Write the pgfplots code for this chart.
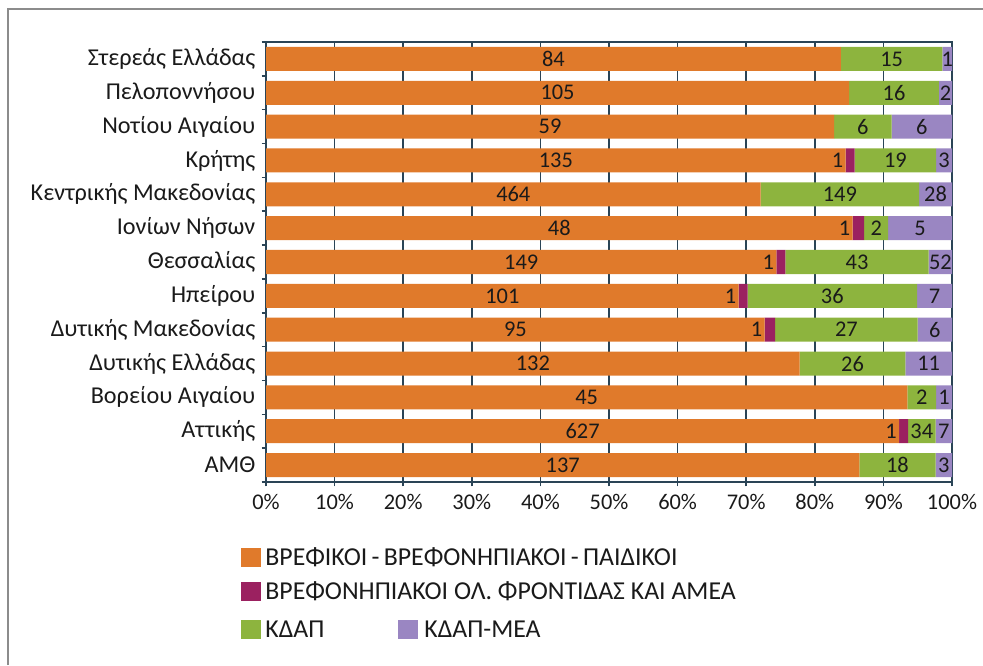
\documentclass[border=0pt]{standalone}
\usepackage{fontspec}
\setmainfont{Carlito}
\usepackage{pgfplots}
\usepackage{pgfplotstable}
\pgfplotsset{compat=1.18}

\definecolor{cOrange}{HTML}{E07A2B}
\definecolor{cMagenta}{HTML}{9B2160}
\definecolor{cGreen}{HTML}{8DB43E}
\definecolor{cPurple}{HTML}{9A86C2}
\definecolor{axiscol}{HTML}{2A4456}
\definecolor{labcol}{HTML}{1A1A1A}
\definecolor{framecol}{HTML}{8C8C8C}

\newcommand\labfont{\fontsize{11.2}{13}\selectfont}
\newcommand\catfont{\fontsize{12.1}{14}\selectfont}
\newcommand\legfont{\fontsize{12.9}{15}\selectfont}

% widths of the segments in percent (as drawn), and the printed counts
\pgfplotstableread{
y a    b   c    d   la  lb  lc  ld
0 86.5 0   11.1 2.4 137 {}  18  3
1 92.3 1.3 4.0  2.4 627 1   34  7
2 93.5 0   4.2  2.3 45  {}  2   1
3 77.8 0   15.4 6.8 132 {}  26  11
4 72.7 1.5 20.8 5.0 95  1   27  6
5 68.9 1.3 24.7 5.1 101 1   36  7
6 74.4 1.3 20.9 3.4 149 1   43  52
7 85.5 1.7 3.5  9.3 48  1   2   5
8 72.1 0   23.1 4.8 464 {}  149 28
9 84.5 1.3 11.9 2.3 135 1   19  3
10 82.8 0  8.4  8.8 59  {}  6   6
11 85.0 0  13.1 1.9 105 {}  16  2
12 83.8 0  14.8 1.4 84  {}  15  1
}\datatab

\begin{document}
\begin{tikzpicture}[x=0.5pt,y=0.5pt]
\path[use as bounding box] (0,0) rectangle (983,665);
\draw[framecol,line width=0.75pt] (8,0) -- (8,656) -- (983,656);

\pgfplotsset{base/.style={
  at={(133pt,91.5pt)}, anchor=south west,
  scale only axis, width=343pt, height=220pt,
  xmin=0, xmax=100, ymin=-0.5, ymax=12.5}}

\begin{axis}[base,
  xbar stacked, bar width=0.71,
  axis line style={axiscol,line width=0.75pt},
  xmajorgrids, major grid style={axiscol,line width=0.75pt},
  tick style={axiscol,line width=0.75pt},
  tick align=outside, major tick length=2.2pt,
  xtick pos=bottom, ytick pos=left,
  xtick={0,10,...,100},
  xticklabels={0\%,10\%,20\%,30\%,40\%,50\%,60\%,70\%,80\%,90\%,100\%},
  xticklabel style={font=\labfont,text=labcol,yshift=-0.5pt},
  ytick={-0.5,0.5,...,12.5}, yticklabels={},
  extra y ticks={0,...,12},
  extra y tick labels={ΑΜΘ,Αττικής,Βορείου Αιγαίου,Δυτικής Ελλάδας,Δυτικής Μακεδονίας,Ηπείρου,Θεσσαλίας,Ιονίων Νήσων,Κεντρικής Μακεδονίας,Κρήτης,Νοτίου Αιγαίου,Πελοποννήσου,Στερεάς Ελλάδας},
  extra y tick style={major tick length=0pt,grid=none,
    yticklabel style={font=\catfont,text=labcol,xshift=-1.8pt}},
]
\addplot[fill=cOrange,draw=none] table[x=a,y=y] {\datatab};
\addplot[fill=cMagenta,draw=none] table[x=b,y=y] {\datatab};
\addplot[fill=cGreen,draw=none] table[x=c,y=y] {\datatab};
\addplot[fill=cPurple,draw=none] table[x=d,y=y] {\datatab};
\end{axis}

\begin{axis}[base, hide axis, clip=false,
  nodes near coords, point meta=explicit symbolic,
  every node near coord/.append style={font=\labfont,text=labcol,inner sep=1pt}]
\addplot[draw=none,mark=none,every node near coord/.append style={anchor=center}]
  table[x expr=\thisrow{a}/2,y=y,meta=la] {\datatab};
\addplot[draw=none,mark=none,every node near coord/.append style={anchor=east}]
  table[x=a,y=y,meta=lb] {\datatab};
\addplot[draw=none,mark=none,every node near coord/.append style={anchor=center}]
  table[x expr=\thisrow{a}+\thisrow{b}+\thisrow{c}/2,y=y,meta=lc] {\datatab};
\addplot[draw=none,mark=none,every node near coord/.append style={anchor=center}]
  table[x expr=\thisrow{a}+\thisrow{b}+\thisrow{c}+\thisrow{d}/2,y=y,meta=ld] {\datatab};
\end{axis}

% legend
\fill[cOrange]  (241,98) rectangle (261,117);
\fill[cMagenta] (241,64) rectangle (261,83);
\fill[cGreen]   (241,26) rectangle (261,45);
\fill[cPurple]  (398,26) rectangle (418,45);
\node[anchor=west,inner sep=0pt,font=\legfont,text=labcol] at (265,107.5) {ΒΡΕΦΙΚΟΙ\,-\,ΒΡΕΦΟΝΗΠΙΑΚΟΙ\,-\,ΠΑΙΔΙΚΟΙ};
\node[anchor=west,inner sep=0pt,font=\legfont,text=labcol] at (265,73.5) {ΒΡΕΦΟΝΗΠΙΑΚΟΙ ΟΛ. ΦΡΟΝΤΙΔΑΣ ΚΑΙ ΑΜΕΑ};
\node[anchor=west,inner sep=0pt,font=\legfont,text=labcol] at (265,35.5) {ΚΔΑΠ};
\node[anchor=west,inner sep=0pt,font=\legfont,text=labcol] at (424,35.5) {ΚΔΑΠ-ΜΕΑ};
\end{tikzpicture}
\end{document}
